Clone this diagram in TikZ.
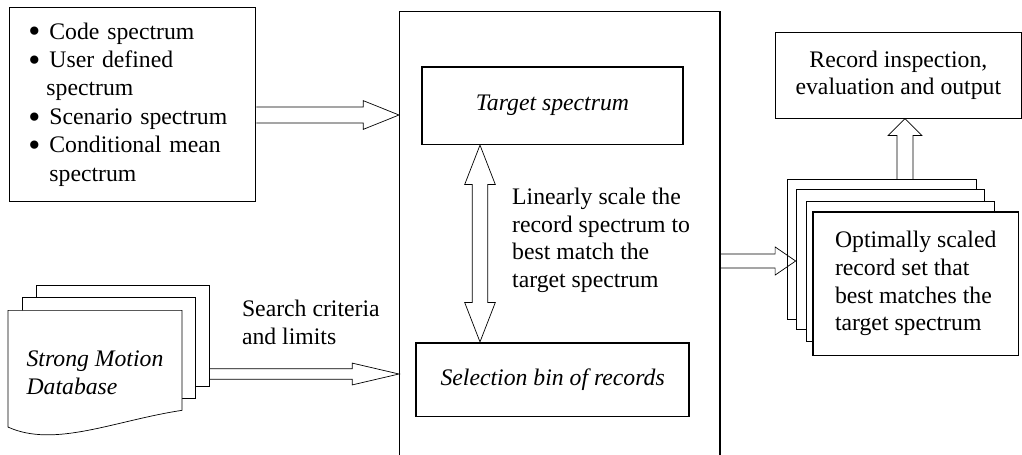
\documentclass[tikz,border=0pt]{standalone}
\usepackage{fontspec}
\setmainfont{Liberation Serif}
\usetikzlibrary{calc}
\pgfdeclarelayer{background}
\pgfsetlayers{background,main}

\newcommand{\itemdot}{\makebox[0.42cm][l]{\raisebox{-0.16em}{\scalebox{1.45}{\textbullet}}}}

\begin{document}
\begin{tikzpicture}[x=0.02cm,y=-0.02cm,line width=0.6pt,
    font=\fontsize{13.5}{15.8}\selectfont,
    box/.style={draw,inner sep=0pt,align=center},
    thick box/.style={box,line width=0.9pt},
    card/.style={draw,fill=white,minimum width=3.774cm,minimum height=2.8cm},
    page/.style={draw,fill=white,minimum width=3.46cm,minimum height=2.02cm},
    fat/.style n args={3}{to path={let \p1=($(\tikztotarget)!#3!(\tikztostart)$) in
        ($(\tikztostart)!#1!-90:(\tikztotarget)$) -- ($(\p1)!#1!-90:(\tikztotarget)$)
        -- ($(\p1)!#2!-90:(\tikztotarget)$) -- (\tikztotarget)
        -- ($(\p1)!#2!90:(\tikztotarget)$) -- ($(\p1)!#1!90:(\tikztotarget)$)
        -- ($(\tikztostart)!#1!90:(\tikztotarget)$)}},
    fat both/.style n args={3}{to path={let \p1=($(\tikztostart)!#3!(\tikztotarget)$),
        \p2=($(\tikztotarget)!#3!(\tikztostart)$) in
        (\tikztostart) -- ($(\p1)!#2!-90:(\tikztotarget)$) -- ($(\p1)!#1!-90:(\tikztotarget)$)
        -- ($(\p2)!#1!-90:(\tikztotarget)$) -- ($(\p2)!#2!-90:(\tikztotarget)$) -- (\tikztotarget)
        -- ($(\p2)!#2!90:(\tikztotarget)$) -- ($(\p2)!#1!90:(\tikztotarget)$)
        -- ($(\p1)!#1!90:(\tikztotarget)$) -- ($(\p1)!#2!90:(\tikztotarget)$) -- cycle}}]
    \useasboundingbox (0,0) rectangle (1022,454);

    % spectra to choose from
    \node[box,minimum width=4.93cm,minimum height=3.888cm,text width=4.17cm,align=left,
        font=\fontsize{13.5}{16.2}\selectfont] (spec) at (132.65,104.5)
        {\itemdot Code spectrum\\
         \itemdot User defined\\
         \hspace*{0.36cm}spectrum\\
         \itemdot Scenario spectrum\\
         \itemdot Conditional mean\\
         \hspace*{0.42cm}spectrum};

    % selection stage
    \node[draw,minimum width=6.41cm,minimum height=9.366cm] (stage) at (559.75,245.85) {};
    \node[thick box,minimum width=5.232cm,minimum height=1.552cm,
        font=\fontsize{13.5}{15.8}\selectfont\itshape] (target) at (552.5,105.5) {Target spectrum};
    \node[thick box,minimum width=5.466cm,minimum height=1.48cm,
        font=\fontsize{13.5}{15.8}\selectfont\itshape] (select) at (552.65,379.7) {Selection bin of records};
    \node[anchor=west,inner sep=0pt,align=left] (scale) at (511.7,240.4)
        {Linearly scale the\\record spectrum to\\best match the\\target spectrum};

    % database
    \begin{pgfonlayer}{background}
        \node[page] (db3) at (122.65,335.85) {};
        \node[page] (db2) at (108.85,348.3) {};
    \end{pgfonlayer}
    \node[inner sep=0pt,minimum width=3.468cm,minimum height=2.472cm,align=left,
        font=\fontsize{13.5}{15.8}\selectfont\itshape] (db) at (95,372.5) {Strong Motion\\Database};
    \begin{pgfonlayer}{background}
        \draw[fill=white] (db.north west) -- (db.north east) -- ($(db.south east)+(0,-24.3)$)
            .. controls +(-66.7,10) and +(46.7,21.3) .. ($(db.south west)+(0,-7.6)$) -- cycle;
    \end{pgfonlayer}
    \node[anchor=west,inner sep=0pt,align=left] (search) at (241.7,322.7) {Search criteria\\and limits};

    % results
    \node[box,minimum width=4.906cm,minimum height=1.72cm] (report) at (898.35,75.3)
        {Record inspection,\\evaluation and output};
    \node[card] (card1) at (881.65,249.65) {};
    \node[card] (card2) at (890.35,259.65) {};
    \node[card] (card3) at (900.35,271.2) {};
    \node[card,line width=0.9pt,minimum width=4.12cm,minimum height=2.872cm,align=left] (card4)
        at (915.7,283.5) {Optimally scaled\\record set that\\best matches the\\target spectrum};

    \coordinate (rowA) at (0,115);
    \coordinate (rowB) at (0,374);
    \coordinate (rowC) at (0,261);
    \coordinate (colD) at (480,0);
    \coordinate (colE) at (905,0);

    \path (spec.east |- rowA) edge[fat={4.5pt}{8.2pt}{20.4pt}] (stage.west |- rowA)
        (db3.east |- rowB) edge[fat={3pt}{6.2pt}{26.6pt}] (stage.west |- rowB)
        (target.south -| colD) edge[fat both={4.4pt}{8.7pt}{22.4pt}] (select.north -| colD)
        (stage.east |- rowC) edge[fat={4pt}{8pt}{11.7pt}] (card2.west |- rowC)
        (card1.north -| colE) edge[fat={4.5pt}{9.6pt}{9.6pt}] (report.south -| colE);
\end{tikzpicture}
\end{document}
